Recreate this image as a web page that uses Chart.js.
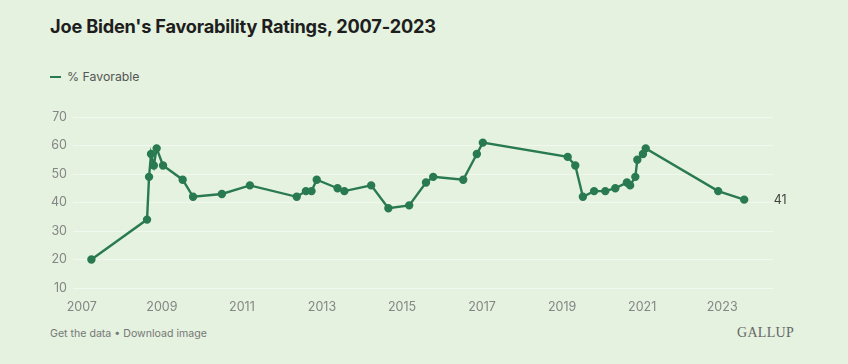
<!DOCTYPE html>
<html lang="en">
<head>
  <meta charset="UTF-8" />
  <title>Joe Biden's Favorability Ratings, 2007-2023</title>
  <script src="https://cdn.jsdelivr.net/npm/chart.js"></script>
  <style>
    html, body {
      margin: 0;
      padding: 0;
      width: 848px;
      height: 364px;
      overflow: hidden;
      background: #e4f2df;
      font-family: 'Inter', 'Roboto', sans-serif;
    }
    .title {
      position: absolute;
      left: 50px;
      top: 15px;
      font-size: 18.2px;
      font-weight: 700;
      color: #1e1e1e;
      letter-spacing: -0.2px;
    }
    .legend {
      position: absolute;
      left: 50px;
      top: 69px;
      font-size: 12.3px;
      color: #555;
      display: flex;
      align-items: center;
    }
    .legend span {
      display: inline-block;
      width: 11px;
      height: 2px;
      background: #2a7a50;
      margin-right: 6px;
    }
    .chart-box {
      position: absolute;
      left: 0;
      top: 100px;
      width: 848px;
      height: 212px;
    }
    .footer {
      position: absolute;
      left: 50px;
      top: 327px;
      font-size: 10.6px;
      color: #777;
    }
    .brand {
      position: absolute;
      left: 737px;
      top: 325px;
      font-family: 'Liberation Serif', 'DejaVu Serif', serif;
      font-size: 14px;
      color: #666;
      letter-spacing: 0.3px;
    }
  </style>
</head>
<body>
  <div class="title">Joe Biden's Favorability Ratings, 2007-2023</div>
  <div class="legend"><span></span>% Favorable</div>
  <div class="chart-box"><canvas id="favChart"></canvas></div>
  <div class="footer">Get the data • Download image</div>
  <div class="brand">GALLUP</div>

  <script>
    // survey dates as decimal years
    const surveyDates = [
      2007.24, 2008.63, 2008.68, 2008.73, 2008.80, 2008.87, 2009.03, 2009.52, 2009.78,
      2010.50, 2011.20, 2012.37, 2012.60, 2012.74, 2012.87, 2013.39, 2013.56, 2014.23,
      2014.66, 2015.18, 2015.60, 2015.78, 2016.53, 2016.87, 2017.02, 2019.14, 2019.33,
      2019.52, 2019.80, 2020.08, 2020.33, 2020.62, 2020.70, 2020.83, 2020.88, 2021.02,
      2021.09, 2022.90, 2023.55
    ];
    const favorable = [
      20, 34, 49, 57, 53, 59, 53, 48, 42,
      43, 46, 42, 44, 44, 48, 45, 44, 46,
      38, 39, 47, 49, 48, 57, 61, 56, 53,
      42, 44, 44, 45, 47, 46, 49, 55, 57,
      59, 44, 41
    ];
    const yearTicks = [2007, 2009, 2011, 2013, 2015, 2017, 2019, 2021, 2023];
    const valueTicks = [10, 20, 30, 40, 50, 60, 70];

    const lineColor = "#2a7a50";

    const endLabel = {
      id: "endLabel",
      afterDatasetsDraw(chart) {
        const { ctx, scales } = chart;
        const i = favorable.length - 1;
        const x = scales.x.getPixelForValue(surveyDates[i]) + 36;
        const y = scales.y.getPixelForValue(favorable[i]);
        ctx.save();
        ctx.font = "12.5px Inter, Roboto, sans-serif";
        ctx.fillStyle = "#444";
        ctx.textAlign = "center";
        ctx.textBaseline = "middle";
        ctx.fillText(String(favorable[i]), x, y + 1);
        ctx.restore();
      }
    };

    new Chart(document.getElementById("favChart"), {
      type: "line",
      data: {
        datasets: [{
          label: "% Favorable",
          data: surveyDates.map((d, i) => ({ x: d, y: favorable[i] })),
          borderColor: lineColor,
          backgroundColor: lineColor,
          pointBackgroundColor: lineColor,
          pointBorderColor: lineColor,
          pointRadius: 3,
          borderWidth: 2.4,
          tension: 0
        }]
      },
      options: {
        responsive: true,
        maintainAspectRatio: false,
        animation: false,
        layout: { padding: { top: 17, right: 75, left: 0, bottom: 0 } },
        plugins: {
          legend: { display: false },
          tooltip: { enabled: false }
        },
        scales: {
          x: {
            type: "linear",
            min: 2006.78,
            max: 2024.27,
            afterBuildTicks(scale) {
              scale.ticks = yearTicks.map(v => ({ value: v }));
            },
            afterFit(scale) { scale.height = 24; },
            grid: { display: false },
            border: { display: false },
            ticks: {
              color: "#858585",
              font: { size: 12.5, family: "Inter, Roboto, sans-serif" },
              padding: 4,
              maxRotation: 0,
              callback: v => String(v)
            }
          },
          y: {
            min: 10,
            max: 70,
            afterBuildTicks(scale) {
              scale.ticks = valueTicks.map(v => ({ value: v }));
            },
            afterFit(scale) { scale.width = 73; },
            grid: { color: "#f1f8ef", lineWidth: 1, drawTicks: false },
            border: { display: false },
            ticks: {
              color: "#858585",
              font: { size: 12.5, family: "Inter, Roboto, sans-serif" },
              padding: 6
            }
          }
        }
      },
      plugins: [endLabel]
    });
  </script>
</body>
</html>
